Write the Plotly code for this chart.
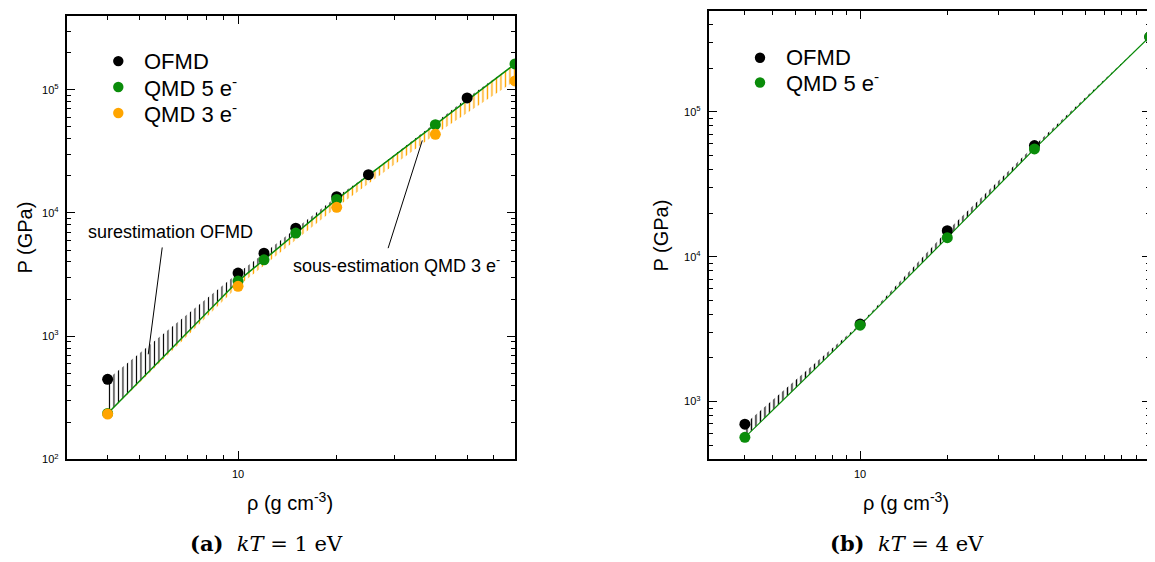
import numpy as np
import plotly.graph_objects as go

# ---------------- data: (a) kT = 1 eV ----------------
a_ofmd_rho = [4, 10, 12, 15, 20, 25, 50]
a_ofmd_p = [446, 3250, 4710, 7530, 13550, 20470, 85900]
a_qmd5_rho = [4, 10, 12, 15, 20, 40, 70]
a_qmd5_p = [236, 2800, 4170, 6870, 12880, 52100, 162000]
a_qmd3_rho = [4, 10, 20, 40, 70]
a_qmd3_p = [233, 2540, 11120, 43500, 118000]

# ---------------- data: (b) kT = 4 eV ----------------
b_ofmd_rho = [4, 10, 20, 40, 100]
b_ofmd_p = [697, 3420, 15100, 58500, 330000]
b_qmd5_rho = [4, 10, 20, 40, 100]
b_qmd5_p = [565, 3365, 13530, 55500, 330000]

# tick labels
y_major_a = [1e2, 1e3, 1e4, 1e5]
y_major_a_txt = ["10<sup>2</sup>", "10<sup>3</sup>", "10<sup>4</sup>", "10<sup>5</sup>"]
y_major_b = [1e3, 1e4, 1e5]
y_major_b_txt = ["10<sup>3</sup>", "10<sup>4</sup>", "10<sup>5</sup>"]
x_major_a = [10]
x_major_a_txt = ["10"]
x_major_b = [10, 100]
x_major_b_txt = ["10", "100"]

legend_a = ["OFMD", "QMD 5 e<sup>-</sup>", "QMD 3 e<sup>-</sup>"]
legend_b = ["OFMD", "QMD 5 e<sup>-</sup>"]

BLACK = "#000000"
GREEN = "#0a8c0a"
ORANGE = "#ffa500"
FONT = "Liberation Sans"
OFF = 8            # page margin of the browser body
W, H = 1147, 554


def minors(lo_dec, hi_dec, vmin, vmax):
    out = []
    for d in range(lo_dec, hi_dec + 1):
        for m in range(2, 10):
            v = m * 10 ** d
            if vmin <= v <= vmax:
                out.append(v)
    return out


def polygon(x1, y1, x2, y2):
    return list(x1) + list(x2)[::-1], list(y1) + list(y2)[::-1]


def px_x(p):
    return (p - OFF) / W


def px_y(p):
    return (H - (p - OFF)) / H


fig = go.Figure()


def hatch(xa, ya, xb, yb, color, xax, yax, solidity):
    px, py = polygon(xa, ya, xb, yb)
    fig.add_trace(go.Scatter(
        x=px, y=py, mode="lines", fill="toself", line=dict(width=0, color=color),
        fillcolor="rgba(0,0,0,0)",
        fillpattern=dict(shape="|", size=4.5, solidity=solidity, fgcolor=color,
                         bgcolor="rgba(0,0,0,0)", fillmode="replace"),
        showlegend=False, hoverinfo="skip", xaxis=xax, yaxis=yax))


# ---- panel (a)
hatch(a_ofmd_rho, a_ofmd_p, a_qmd5_rho, a_qmd5_p, BLACK, "x", "y", 0.25)
hatch(a_qmd3_rho, a_qmd3_p, a_qmd5_rho, a_qmd5_p, ORANGE, "x", "y", 0.3)
fig.add_trace(go.Scatter(x=a_qmd5_rho, y=a_qmd5_p, mode="lines",
                         line=dict(color=GREEN, width=1.5), showlegend=False,
                         xaxis="x", yaxis="y"))
for xs, ys, col, nm in [(a_ofmd_rho, a_ofmd_p, BLACK, legend_a[0]),
                        (a_qmd5_rho, a_qmd5_p, GREEN, legend_a[1]),
                        (a_qmd3_rho, a_qmd3_p, ORANGE, legend_a[2])]:
    fig.add_trace(go.Scatter(x=xs, y=ys, mode="markers", name=nm,
                             marker=dict(color=col, size=11), showlegend=False,
                             xaxis="x", yaxis="y"))

# ---- panel (b)
hatch(b_ofmd_rho, b_ofmd_p, b_qmd5_rho, b_qmd5_p, BLACK, "x2", "y2", 0.3)
fig.add_trace(go.Scatter(x=b_qmd5_rho, y=b_qmd5_p, mode="lines",
                         line=dict(color=GREEN, width=1.2), showlegend=False,
                         xaxis="x2", yaxis="y2"))
for xs, ys, col, nm in [(b_ofmd_rho, b_ofmd_p, BLACK, legend_b[0]),
                        (b_qmd5_rho, b_qmd5_p, GREEN, legend_b[1])]:
    fig.add_trace(go.Scatter(x=xs, y=ys, mode="markers", name=nm,
                             marker=dict(color=col, size=11), showlegend=False,
                             xaxis="x2", yaxis="y2"))

axis_common = dict(type="log", showgrid=False, zeroline=False, showline=True,
                   linecolor=BLACK, linewidth=1.8, mirror="ticks", ticks="inside",
                   ticklen=8, tickwidth=1.2, tickcolor=BLACK,
                   tickfont=dict(family=FONT, size=11, color=BLACK),
                   ticklabelstandoff=4)

fig.update_layout(
    width=W, height=H, margin=dict(l=0, r=0, t=0, b=0),
    paper_bgcolor="white", plot_bgcolor="white",
    font=dict(family=FONT, color=BLACK), showlegend=False,
    xaxis=dict(axis_common, domain=[px_x(66.7), px_x(515)], anchor="y",
               range=[np.log10(3), np.log10(70)], tickvals=x_major_a,
               ticktext=x_major_a_txt,
               minor=dict(tickvals=minors(0, 1, 3, 70), ticks="inside", ticklen=4,
                          tickwidth=1, tickcolor=BLACK)),
    yaxis=dict(axis_common, domain=[px_y(464.3), px_y(15.7)], anchor="x",
               range=[2, np.log10(4e5)], tickvals=y_major_a, ticktext=y_major_a_txt,
               minor=dict(tickvals=minors(2, 5, 100, 4e5), ticks="inside", ticklen=4,
                          tickwidth=1, tickcolor=BLACK)),
    xaxis2=dict(axis_common, domain=[px_x(708.7), min(1.0, px_x(1149.7))], anchor="y2",
                range=[np.log10(3), 2], tickvals=x_major_b, ticktext=x_major_b_txt,
                minor=dict(tickvals=minors(0, 1, 3, 100), ticks="inside", ticklen=4,
                           tickwidth=1, tickcolor=BLACK)),
    yaxis2=dict(axis_common, domain=[px_y(464), px_y(10.7)], anchor="x2",
                range=[np.log10(400), np.log10(5e5)], tickvals=y_major_b,
                ticktext=y_major_b_txt,
                minor=dict(tickvals=minors(2, 5, 400, 5e5), ticks="inside", ticklen=4,
                           tickwidth=1, tickcolor=BLACK)),
)


# legends (drawn as symbol + label)
def legend(entries, colors, mx, tx, y0, dy):
    for i, (lab, col) in enumerate(zip(entries, colors)):
        yy = y0 + i * dy
        fig.add_shape(type="circle", xref="paper", yref="paper",
                      xsizemode="pixel", ysizemode="pixel",
                      xanchor=px_x(mx), yanchor=px_y(yy),
                      x0=-5.2, x1=5.2, y0=-5.2, y1=5.2,
                      fillcolor=col, line=dict(width=0))
        fig.add_annotation(xref="paper", yref="paper", x=px_x(tx), y=px_y(yy),
                           text=lab, showarrow=False, xanchor="left",
                           yanchor="middle",
                           font=dict(family=FONT, size=22, color=BLACK))


legend(legend_a, [BLACK, GREEN, ORANGE], 118.3, 142, 61.7, 26.2)
legend(legend_b, [BLACK, GREEN], 760, 784, 58.3, 25)

# leader lines of the annotations (data coordinates)
fig.add_shape(type="line", xref="x", yref="y", x0=5.87, y0=5250, x1=5.32, y1=713,
              line=dict(color=BLACK, width=1))
fig.add_shape(type="line", xref="x", yref="y", x0=28.7, y0=5180, x1=36.5, y1=38800,
              line=dict(color=BLACK, width=1))

fig.add_annotation(xref="x", yref="y", x=np.log10(3.43), y=np.log10(7020),
                   text="surestimation OFMD", showarrow=False, xanchor="left",
                   yanchor="middle", font=dict(family=FONT, size=18, color=BLACK))
fig.add_annotation(xref="x", yref="y", x=np.log10(14.5), y=np.log10(3830),
                   text="sous-estimation QMD 3 e<sup>-</sup>", showarrow=False,
                   xanchor="left", yanchor="middle",
                   font=dict(family=FONT, size=18, color=BLACK))

# axis titles
title_font = dict(family=FONT, size=20, color=BLACK)
for xc in [289.5, 906]:
    fig.add_annotation(xref="paper", yref="paper", x=px_x(xc), y=px_y(507),
                       text="ρ (g cm<sup>-3</sup>)", showarrow=False,
                       xanchor="center", yanchor="middle", font=title_font)
for xc, yc in [(25, 240), (661, 238)]:
    fig.add_annotation(xref="paper", yref="paper", x=px_x(xc), y=px_y(yc),
                       text="P (GPa)", showarrow=False, textangle=-90,
                       xanchor="center", yanchor="middle", font=title_font)

# captions
cap_font = dict(family="DejaVu Serif", size=21, color=BLACK)
fig.add_annotation(xref="paper", yref="paper", x=px_x(266), y=px_y(549),
                   text="<b>(a)</b>  <i>kT</i> = 1 eV", showarrow=False,
                   xanchor="center", yanchor="middle", font=cap_font)
fig.add_annotation(xref="paper", yref="paper", x=px_x(907), y=px_y(549),
                   text="<b>(b)</b>  <i>kT</i> = 4 eV", showarrow=False,
                   xanchor="center", yanchor="middle", font=cap_font)

fig.write_html("out.html")
